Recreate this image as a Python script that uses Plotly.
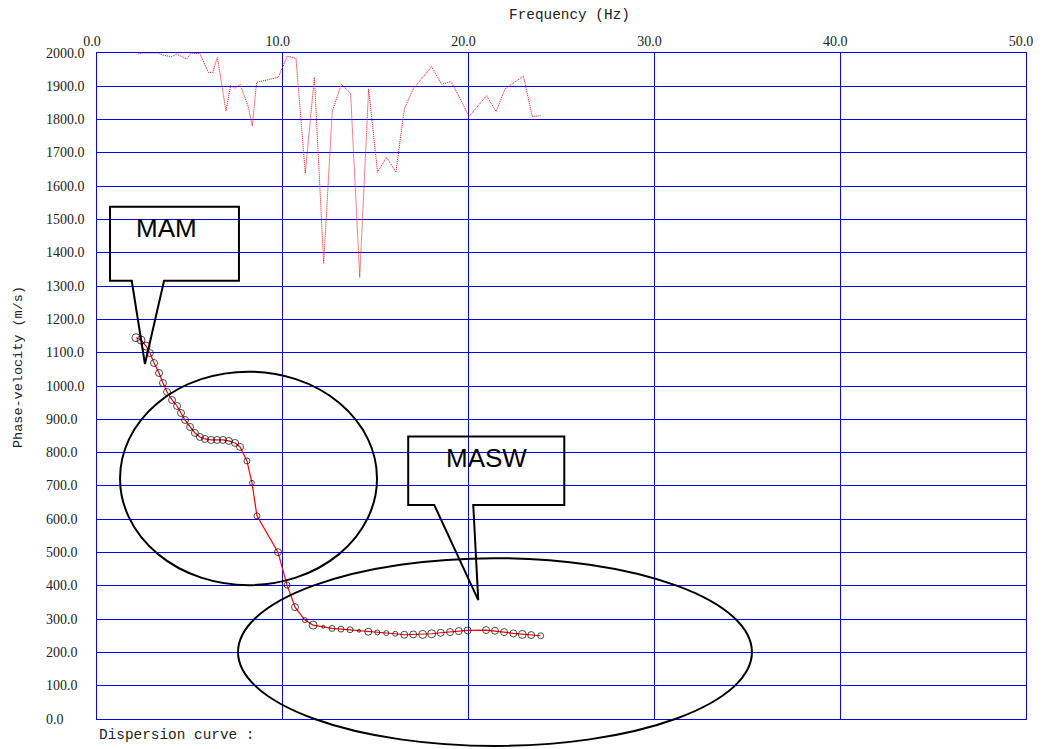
import plotly.graph_objects as go

# Picked dispersion curve (frequency in Hz, phase velocity in m/s)
disp_freq = [2.10, 2.37, 2.64, 2.85, 3.07, 3.34, 3.55, 3.77, 4.04, 4.31,
             4.52, 4.74, 5.01, 5.27, 5.54, 5.81, 6.14, 6.46, 6.78, 7.10,
             7.43, 7.70, 8.07, 8.34, 8.61, 9.74, 10.23, 10.66, 11.19, 11.63,
             12.18, 12.65, 13.13, 13.62, 14.10, 14.60, 15.09, 15.57, 16.05, 16.54,
             17.02, 17.53, 18.01, 18.50, 19.00, 19.47, 19.95, 20.94, 21.42, 21.91,
             22.41, 22.89, 23.37, 23.88]
disp_vel = [1145, 1138, 1120, 1099, 1069, 1039, 1009, 982, 958, 940,
            919, 898, 877, 859, 847, 841, 838, 838, 838, 835,
            829, 817, 775, 709, 610, 501, 402, 336, 297, 282,
            277, 272, 270, 268, 265, 262, 260, 258, 256, 253,
            254, 254, 256, 259, 261, 264, 266, 267, 265, 261,
            257, 254, 252, 250]
disp_size = [8, 8, 8, 7, 7, 7, 7, 7, 7, 7,
             7, 7, 7, 7, 7, 7, 7, 7, 7, 7,
             7, 7, 6, 5, 6, 7, 6, 7, 5, 8,
             3, 6, 6, 6, 3, 7, 5, 5, 5, 7,
             7, 8, 8, 7, 7, 7, 7, 7, 7, 7,
             7, 8, 7, 6]

# Upper (higher-mode / noisy) phase-velocity trace
upper_freq = [2.19, 2.49, 3.30, 3.57, 4.02, 4.29, 4.83, 5.06, 5.54, 5.99,
              6.23, 6.48, 6.94, 7.19, 7.43, 7.70, 8.14, 8.36, 8.59, 9.76,
              10.24, 10.71, 11.21, 11.70, 12.20, 12.66, 13.15, 13.65, 14.14, 14.62,
              15.10, 15.59, 16.09, 16.54, 17.02, 18.01, 18.55, 19.05, 19.54, 20.02,
              20.97, 21.48, 21.96, 22.95, 23.43, 23.88]
upper_vel = [1997, 2000, 2000, 1993, 1989, 1997, 1982, 2000, 1998, 1942,
             1942, 1987, 1826, 1902, 1894, 1906, 1839, 1781, 1912, 1927,
             1991, 1984, 1639, 1927, 1368, 1824, 1906, 1879, 1326, 1892,
             1642, 1687, 1642, 1832, 1892, 1959, 1906, 1914, 1864, 1809,
             1872, 1824, 1892, 1931, 1809, 1812]

x_ticks = [0, 10, 20, 30, 40, 50]
y_ticks = [0, 100, 200, 300, 400, 500, 600, 700, 800, 900, 1000,
           1100, 1200, 1300, 1400, 1500, 1600, 1700, 1800, 1900, 2000]

X_RANGE = (0, 50)
Y_RANGE = (0, 2000)

BLUE = "#0000FF"
SERIF = "Liberation Serif, Times New Roman, serif"
MONO = "Liberation Mono, Courier New, monospace"
SANS = "Liberation Sans, Arial, sans-serif"

fig = go.Figure()

fig.add_trace(go.Scatter(
    x=upper_freq, y=upper_vel, mode="lines",
    line=dict(color="#FF0000", width=1, dash="1px,1px"),
    hoverinfo="skip", showlegend=False,
))

fig.add_trace(go.Scatter(
    x=disp_freq, y=disp_vel, mode="lines+markers",
    line=dict(color="#FF0000", width=1.2),
    marker=dict(symbol="circle-open", size=disp_size, color="black",
                line=dict(color="black", width=1)),
    showlegend=False,
))


def xf(v):
    return (v - X_RANGE[0]) / (X_RANGE[1] - X_RANGE[0])


def yf(v):
    return (v - Y_RANGE[0]) / (Y_RANGE[1] - Y_RANGE[0])


shapes = []
# Ellipses grouping the two survey methods (domain refs so they are not clipped)
for x0, x1, y0, y1 in [(1.24, 15.07, 402, 1043), (7.59, 35.25, -81, 483)]:
    shapes.append(dict(type="circle", xref="x domain", yref="y domain",
                       x0=xf(x0), x1=xf(x1), y0=yf(y0), y1=yf(y1),
                       line=dict(color="black", width=2)))


def callout(left, right, top, bottom, base_l, tip_x, tip_y, base_r):
    pts = [(left, top), (right, top), (right, bottom), (base_r, bottom),
           (tip_x, tip_y), (base_l, bottom), (left, bottom)]
    path = "M " + " L ".join(f"{x},{y}" for x, y in pts) + " Z"
    return dict(type="path", xref="x", yref="y", path=path,
                line=dict(color="black", width=2), fillcolor="rgba(0,0,0,0)")


shapes.append(callout(0.70, 7.64, 1538, 1316, 1.87, 2.58, 1066, 3.61))
shapes.append(callout(16.75, 25.15, 848, 643, 18.15, 20.52, 357, 20.25))

annotations = [
    dict(text="MAM", x=3.74, y=1473, xref="x", yref="y", showarrow=False,
         font=dict(family=SANS, size=26, color="black")),
    dict(text="MASW", x=20.96, y=783, xref="x", yref="y", showarrow=False,
         font=dict(family=SANS, size=26, color="black")),
    dict(text="Frequency (Hz)", x=(569 - 97) / 929, y=1 + (53 - 15) / 666,
         xref="paper", yref="paper", showarrow=False, xanchor="center",
         yanchor="middle", font=dict(family=MONO, size=14.4, color="#222")),
    dict(text="Phase-velocity (m/s)", x=(18 - 97) / 929, y=(719 - 367) / 666,
         xref="paper", yref="paper", showarrow=False, textangle=-90,
         xanchor="center", yanchor="middle",
         font=dict(family=MONO, size=13.5, color="#222")),
    dict(text="Dispersion curve :", x=0, y=-(735 - 719) / 666,
         xref="paper", yref="paper", showarrow=False, xanchor="left",
         yanchor="middle", font=dict(family=MONO, size=14.4, color="#222")),
]

# Velocity tick labels, left-aligned in the margin
for v in y_ticks:
    annotations.append(dict(text=f"{v:.1f}", x=(44 - 97) / 929, y=v,
                            xref="paper", yref="y", showarrow=False,
                            xanchor="left", yanchor="middle",
                            font=dict(family=SERIF, size=14, color="#222")))

fig.update_layout(
    width=1046, height=749,
    margin=dict(l=97, r=20, t=53, b=30),
    paper_bgcolor="white", plot_bgcolor="white",
    shapes=shapes, annotations=annotations,
    xaxis=dict(range=list(X_RANGE), side="top", tickvals=x_ticks,
               ticktext=[f"{t:.1f}" for t in x_ticks],
               showgrid=True, gridcolor=BLUE, gridwidth=1,
               showline=True, linecolor=BLUE, linewidth=1, mirror=True,
               zeroline=False, ticks="", ticklabelshift=-5,
               tickfont=dict(family=SERIF, size=14, color="#222")),
    yaxis=dict(range=list(Y_RANGE), tickvals=y_ticks, showticklabels=False,
               showgrid=True, gridcolor=BLUE, gridwidth=1,
               showline=True, linecolor=BLUE, linewidth=1, mirror=True,
               zeroline=False, ticks=""),
)

fig.write_html("out.html")
